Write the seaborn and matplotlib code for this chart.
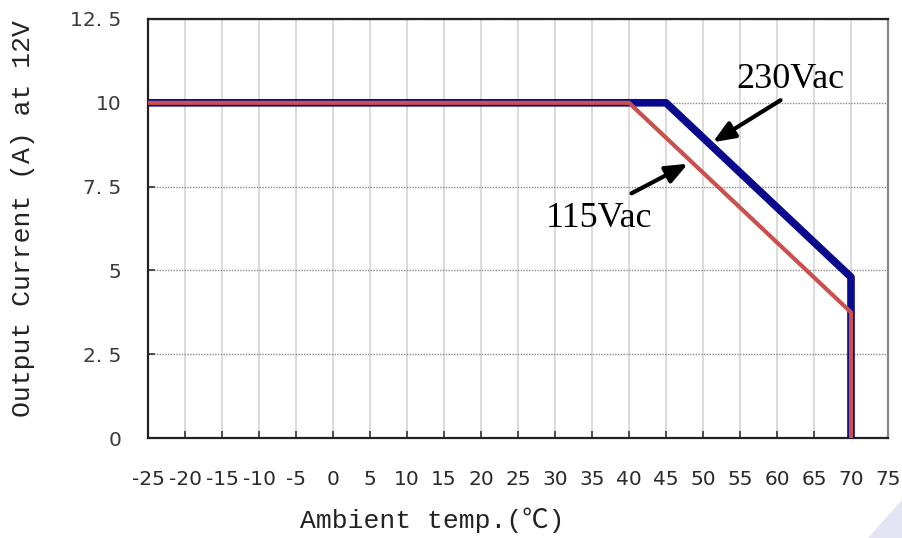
import matplotlib
matplotlib.use("Agg")
import matplotlib.pyplot as plt
import matplotlib.patches as mpatches
import seaborn as sns
import pandas as pd

# Data
temp_230 = [-25, 45, 70, 70]
curr_230 = [10, 10, 4.8, 0]
temp_115 = [-25, 40, 70, 70]
curr_115 = [10, 10, 3.75, 0]
x_ticks = list(range(-25, 80, 5))
y_ticks = [0, 2.5, 5, 7.5, 10, 12.5]
y_tick_labels = ["0", "2. 5", "5", "7. 5", "10", "12. 5"]

sns.set_theme(style="white")
plt.rcParams['font.family'] = ['DejaVu Sans', 'Noto Sans CJK SC']
plt.rcParams['axes.unicode_minus'] = False

fig = plt.figure(figsize=(9.02, 5.38), dpi=100)
ax = fig.add_axes([148/902, 1-438/538, (888-148)/902, (438-19)/538])

df230 = pd.DataFrame({"t": temp_230, "i": curr_230})
df115 = pd.DataFrame({"t": temp_115, "i": curr_115})
sns.lineplot(data=df230, x="t", y="i", sort=False, ax=ax, color="#0a0a8c",
             linewidth=5.5, estimator=None, zorder=3)
sns.lineplot(data=df115, x="t", y="i", sort=False, ax=ax, color="#c9504c",
             linewidth=3, estimator=None, zorder=4)

ax.set_xlim(-25, 75)
ax.set_ylim(0, 12.5)
ax.set_xticks(x_ticks)
ax.set_xticklabels([str(v) for v in x_ticks], fontsize=14.5, color="#2a2a2a")
ax.set_yticks(y_ticks)
ax.set_yticklabels(y_tick_labels, fontsize=14.5, color="#3a3a3a")
ax.tick_params(axis="both", bottom=True, left=True, direction="in", length=5, width=1.2,
               color="#333333")
ax.tick_params(axis="x", pad=23)
ax.tick_params(axis="y", pad=19)

ax.grid(True, axis="x", color="#d4d4d4", linewidth=1.2, zorder=0)
ax.grid(True, axis="y", color="#8a8a8a", linewidth=1, linestyle=(0, (1, 1)), zorder=0)
ax.set_axisbelow(True)

for side in ["left", "bottom", "top"]:
    ax.spines[side].set_color("#222222")
    ax.spines[side].set_linewidth(1.6)
ax.spines["right"].set_color("#888888")
ax.spines["right"].set_linewidth(1.6)

mono = ['Liberation Mono', 'Noto Sans CJK SC']
ax.set_xlabel("Ambient temp.(\u2103)", fontsize=19, family=mono, color="#222222")
ax.set_ylabel("Output Current (A) at 12V", fontsize=19, family=mono, color="#222222")
ax.xaxis.set_label_coords(0.384, -0.196)
ax.xaxis.label.set_va("center")
ax.yaxis.set_label_coords(-0.169, 0.523)
ax.yaxis.label.set_va("center")

serif = ['Liberation Serif']
ax.annotate("", xy=(51.0, 8.78), xytext=(60.8, 10.12),
            arrowprops=dict(arrowstyle="-|>,head_length=1.1,head_width=0.45", color="black", lw=3), zorder=5)
ax.text(61.8, 10.71, "230Vac", fontsize=26, family=serif, ha="center", va="center", color="black")
ax.annotate("", xy=(48.3, 8.22), xytext=(40.0, 7.26),
            arrowprops=dict(arrowstyle="-|>,head_length=1.1,head_width=0.45", color="black", lw=3), zorder=5)
ax.text(36.0, 6.55, "115Vac", fontsize=26, family=serif, ha="center", va="center", color="black")

# faint watermark stroke bottom-right
wm = mpatches.Polygon([(868/902, 0), (902/902, 0), (902/902, 1-500/538)], closed=True,
                      transform=fig.transFigure, facecolor="#e4e4f4", edgecolor="none", zorder=-1)
fig.patches.append(wm)

fig.savefig("out.png", dpi=100)
